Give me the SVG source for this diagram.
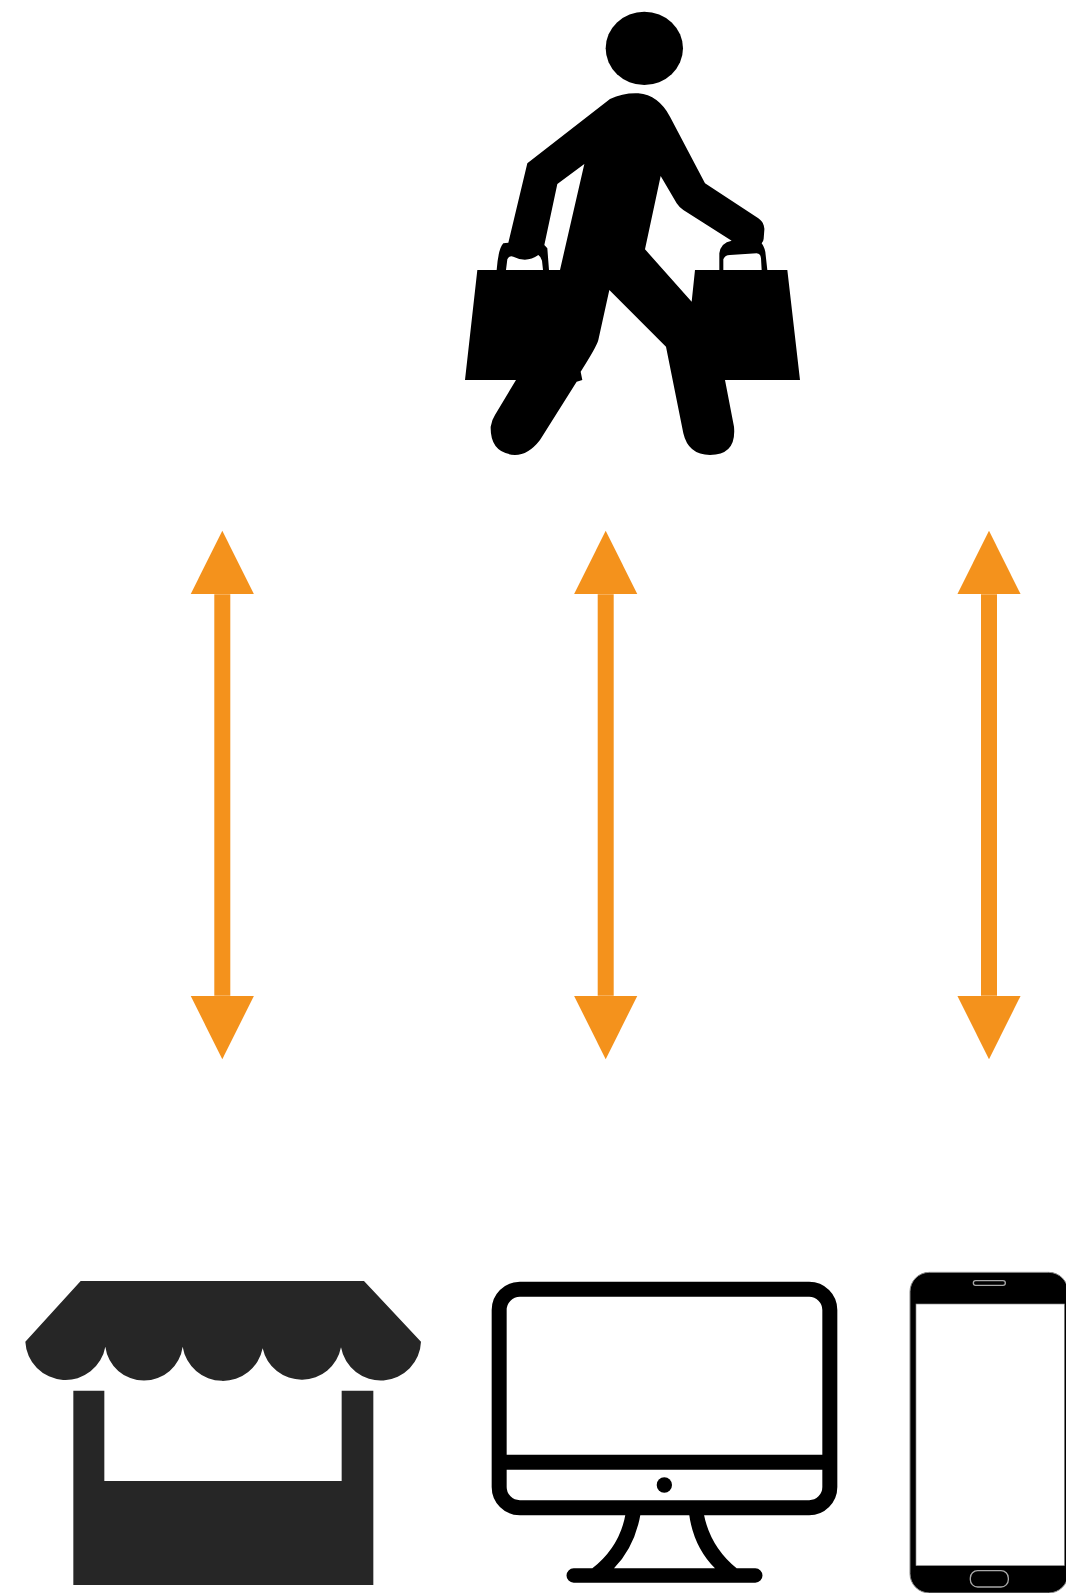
<svg xmlns="http://www.w3.org/2000/svg" width="1066" height="1593" viewBox="0 0 1066 1593">
<style>
.conn{stroke:#f4921c;stroke-width:16;fill:none;marker-start:url(#tip);marker-end:url(#tip)}
.k{fill:#000}
.store{fill:#262626}
.ln{fill:none;stroke:#000;stroke-width:45}
.btn{fill:none;stroke:#a8a8a8;stroke-width:4}
</style>
<defs>
<marker id="tip" markerUnits="userSpaceOnUse" markerWidth="64" markerHeight="64" refX="0" refY="32" orient="auto-start-reverse">
<path d="M0 .3 L63.5 32 L0 63.7 Z" fill="#f4921c"/>
</marker>
</defs>
<rect width="1066" height="1593" fill="#fff"/>
<g id="connectors">
<line class="conn" x1="222.3" y1="594.3" x2="222.3" y2="995.7"/>
<line class="conn" x1="605.7" y1="594.3" x2="605.7" y2="995.7"/>
<line class="conn" x1="989" y1="594.3" x2="989" y2="995.7"/>
</g>
<g id="shopper" transform="translate(450 0) scale(.33333)">
<ellipse class="k" cx="583" cy="145" rx="116" ry="110"/>
<path class="k" fill-rule="evenodd" d="M480 297 Q520 278 565 280 Q625 285 660 350 L765 550 L925 655 Q945 670 943 690 L941 716 Q940 725 935 730 Q946 745 947 765 L952 810 L1012 810 L1050 1140 L825 1140 L852 1280 Q860 1365 780 1365 Q715 1365 700 1300 L648 1040 L478 870 L445 1020 Q440 1040 392 1115 L397 1140 L380 1145 L270 1320 Q235 1365 195 1365 Q120 1360 122 1280 Q125 1260 135 1245 L198 1140 L45 1140 L82 810 L140 810 Q145 745 160 730 L175 728 L232 490 Z
M403 492 L322 552 L283 735 L292 745 L297 810 L330 810 Z
M168 810 L172 778 Q178 765 190 770 Q230 790 265 765 Q273 770 276 782 L279 810 Z
M632 528 L680 610 Q690 625 700 630 L845 722 Q812 728 808 760 L808 810 L735 810 L725 905 L585 748 Z
M820 810 L820 778 Q825 765 840 765 L920 760 Q932 760 933 775 L935 810 Z"/>
</g>
<g id="store" transform="translate(0 1260) scale(.33333)">
<path class="store" d="M242 63 L1092 63 L1263 245 A121 121 0 0 1 1023 262 A120 120 0 0 1 788 265 A122 122 0 0 1 548 260 A117 117 0 0 1 316 260 A121 121 0 0 1 76 245 Z"/>
<path class="store" d="M220 392 L313 392 L313 663 L1025 663 L1025 392 L1120 392 L1120 975 L220 975 Z"/>
</g>
<g id="monitor" transform="translate(480 1260) scale(.33333)">
<rect class="ln" x="57.5" y="88" width="992" height="655" rx="62"/>
<path class="ln" d="M57 607 L1050 607"/>
<circle class="k" cx="553" cy="675" r="23"/>
<path class="k" d="M437 760 L482 760 Q465 860 402 925 L705 925 Q640 860 627 760 L671 760 Q690 860 770 925 L826 925 A21.5 21.5 0 0 1 826 968 L281 968 A21.5 21.5 0 0 1 281 925 L337 925 Q420 860 437 760 Z"/>
</g>
<g id="phone" transform="translate(896 1260) scale(.33333)">
<rect x="42" y="37" width="474" height="962" rx="58" fill="#000" stroke="#8a8a8a" stroke-width="3"/>
<rect x="60" y="132" width="445" height="785" fill="#fff" stroke="#8a8a8a" stroke-width="2"/>
<rect class="btn" x="232" y="62" width="96" height="14" rx="7"/>
<rect class="btn" x="223" y="932" width="114" height="49" rx="22"/>
</g>
</svg>
